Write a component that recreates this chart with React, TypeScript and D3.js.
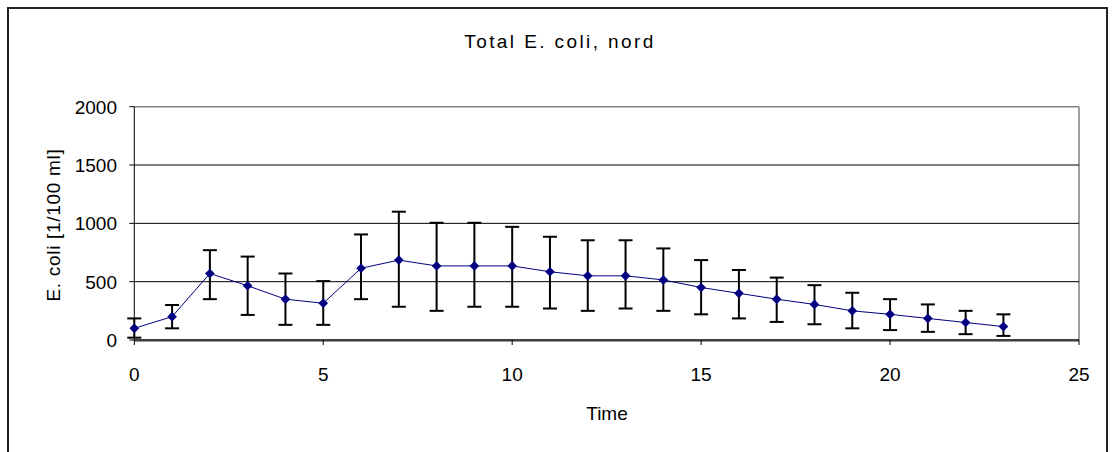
import React from "react";
import * as d3 from "d3";

// Hourly E. coli counts at the north station (mean with min/max range)
const hours = [0, 1, 2, 3, 4, 5, 6, 7, 8, 9, 10, 11, 12, 13, 14, 15, 16, 17, 18, 19, 20, 21, 22, 23];
const meanCount = [100, 200, 570, 465, 350, 315, 615, 685, 635, 635, 635, 585, 550, 550, 515, 450, 400, 350, 305, 250, 220, 185, 150, 115];
const upperCount = [185, 300, 770, 715, 570, 505, 905, 1100, 1005, 1005, 970, 885, 855, 855, 785, 685, 600, 535, 470, 405, 350, 305, 250, 220];
const lowerCount = [20, 100, 350, 215, 130, 130, 350, 285, 250, 285, 285, 270, 250, 270, 250, 220, 185, 155, 135, 100, 85, 70, 50, 35];
const xTicks = [0, 5, 10, 15, 20, 25];
const yTicks = [0, 500, 1000, 1500, 2000];

const W = 1114;
const H = 452;
const FONT = "'Liberation Sans', Arial, sans-serif";

export default function App() {
  const x = d3.scaleLinear().domain([0, 25]).range([134.3, 1079]);
  const y = d3.scaleLinear().domain([0, 2000]).range([340, 106.7]);

  const pts = hours.map((h, i) => [x(h), y(meanCount[i])] as [number, number]);
  const line = d3.line()(pts) || "";
  const diamond = d3.symbol().type(d3.symbolDiamond2).size(60)() || "";
  const cap = 7;

  return (
    <svg
      width={W}
      height={H}
      style={{ position: "absolute", left: 0, top: 0, background: "#fff" }}
      fontFamily={FONT}
    >
      {/* chart frame */}
      <rect x={8} y={8} width={1099} height={460} fill="#fff" stroke="#222" strokeWidth={2} />

      {/* title */}
      <text x={560} y={48} textAnchor="middle" fontSize={19} letterSpacing={2.4} fill="#000">
        Total E. coli, nord
      </text>

      {/* plot area border (top and right) */}
      <line x1={x(0)} x2={x(25)} y1={y(2000)} y2={y(2000)} stroke="#808080" strokeWidth={1.5} />
      <line x1={x(25)} x2={x(25)} y1={y(2000)} y2={y(0)} stroke="#808080" strokeWidth={1.5} />

      {/* horizontal gridlines */}
      {yTicks.filter((t) => t > 0 && t < 2000).map((t) => (
        <line key={t} x1={x(0)} x2={x(25)} y1={y(t)} y2={y(t)} stroke="#000" strokeWidth={1} />
      ))}

      {/* axes */}
      <line x1={x(0)} x2={x(0)} y1={y(2000)} y2={y(0)} stroke="#000" strokeWidth={1} />
      <line x1={x(0)} x2={x(25)} y1={y(0)} y2={y(0)} stroke="#000" strokeWidth={1.5} />
      <line x1={x(0)} x2={x(25)} y1={y(0) + 1.5} y2={y(0) + 1.5} stroke="#999" strokeWidth={1} />

      {yTicks.map((t) => (
        <g key={t}>
          <line x1={x(0) - 5} x2={x(0)} y1={y(t)} y2={y(t)} stroke="#000" />
          <text x={117} y={y(t) + 7} textAnchor="end" fontSize={19} fill="#000">
            {t}
          </text>
        </g>
      ))}
      {xTicks.map((t) => (
        <g key={t}>
          <line x1={x(t)} x2={x(t)} y1={y(0)} y2={y(0) + 5} stroke="#000" />
          <text x={x(t)} y={381} textAnchor="middle" fontSize={19} fill="#000">
            {t}
          </text>
        </g>
      ))}

      {/* axis titles */}
      <text x={607} y={420} textAnchor="middle" fontSize={19} fill="#000">
        Time
      </text>
      <text
        transform={`translate(60,225) rotate(-90)`}
        textAnchor="middle"
        fontSize={19}
        letterSpacing={0.7}
        fill="#000"
      >
        E. coli [1/100 ml]
      </text>

      {/* error bars */}
      {hours.map((h, i) => {
        const cx = x(h);
        const yt = y(upperCount[i]);
        const yb = y(lowerCount[i]);
        return (
          <g key={h} stroke="#000" strokeWidth={2}>
            <line x1={cx} x2={cx} y1={yt} y2={yb} />
            <line x1={cx - cap} x2={cx + cap} y1={yt} y2={yt} />
            <line x1={cx - cap} x2={cx + cap} y1={yb} y2={yb} />
          </g>
        );
      })}

      {/* mean series */}
      <path d={line} fill="none" stroke="#000080" strokeWidth={1} />
      {pts.map(([px, py], i) => (
        <path key={i} d={diamond} transform={`translate(${px},${py})`} fill="#000080" />
      ))}
    </svg>
  );
}
